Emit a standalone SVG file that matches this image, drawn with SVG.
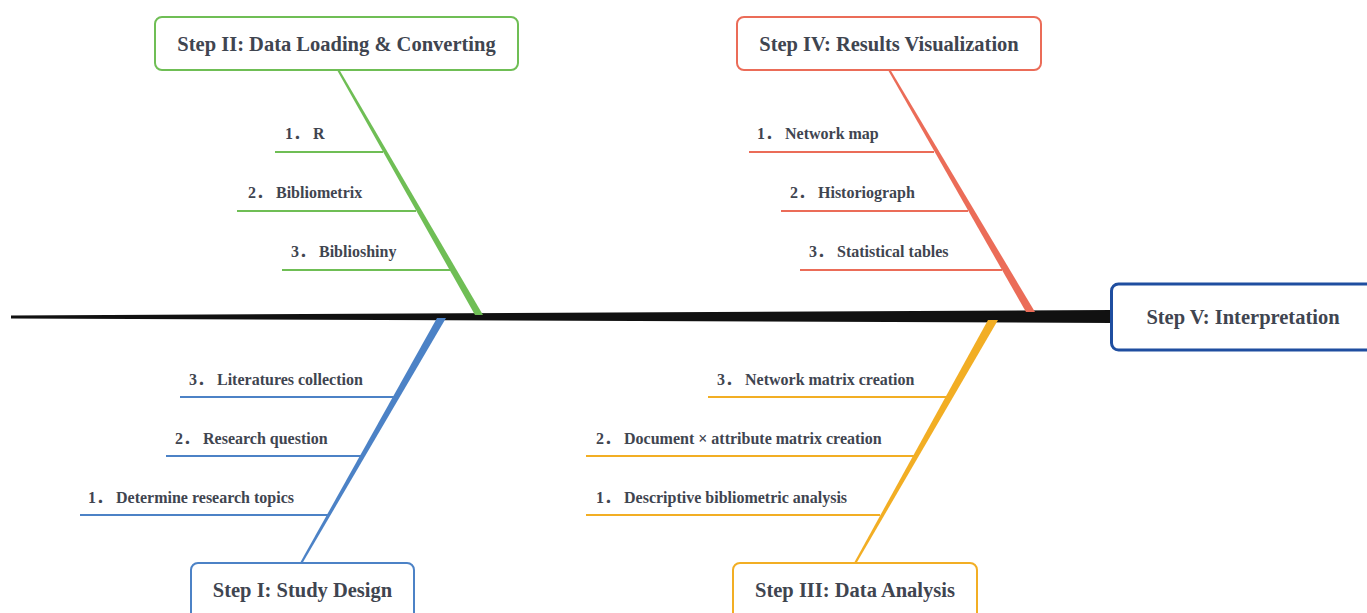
<svg xmlns="http://www.w3.org/2000/svg" width="1367" height="613" viewBox="0 0 1367 613">
  <style>
    .title { font-family: "Liberation Serif", "Noto Sans CJK SC", serif; font-weight: bold; font-size: 20.5px; fill: #3f4550; text-anchor: middle; dominant-baseline: central; }
    .lbl { font-family: "Liberation Serif", "Noto Sans CJK SC", serif; font-weight: bold; font-size: 16px; fill: #3f4550; }
    .box { fill: #ffffff; stroke-width: 2; }
    .sub { stroke-width: 2; fill: none; }
    .green { stroke: #6fbe55; }
    .red { stroke: #eb6c58; }
    .blue { stroke: #4c82c6; }
    .orange { stroke: #f2ae24; }
  </style>
  <rect width="1367" height="613" fill="#ffffff"/>

  <!-- connectors: spine, main bones and sub-bones -->
  <g id="connectors">
    <polygon points="11,315.5 1112,310 1112,323 11,318.5" fill="#111111"/>
    <polygon points="337,70 339.5,70 483,315 475,315" fill="#6fbe55"/>
    <polygon points="888,70 890.5,70 1035,312 1026,312" fill="#eb6c58"/>
    <polygon points="437,318 446,318 302.5,563 300,563" fill="#4c82c6"/>
    <polygon points="988,320 998,320 856.5,563 854,563" fill="#f2ae24"/>

    <line class="sub green" x1="275" y1="152" x2="383" y2="152"/>
    <line class="sub green" x1="237" y1="211" x2="416" y2="211"/>
    <line class="sub green" x1="282" y1="270" x2="450" y2="270"/>

    <line class="sub red" x1="749" y1="152" x2="934" y2="152"/>
    <line class="sub red" x1="781" y1="211" x2="968" y2="211"/>
    <line class="sub red" x1="800" y1="270" x2="1002" y2="270"/>

    <line class="sub blue" x1="180" y1="397" x2="397" y2="397"/>
    <line class="sub blue" x1="166" y1="456" x2="362" y2="456"/>
    <line class="sub blue" x1="80" y1="515" x2="328" y2="515"/>

    <line class="sub orange" x1="708" y1="397" x2="948" y2="397"/>
    <line class="sub orange" x1="586" y1="456" x2="914" y2="456"/>
    <line class="sub orange" x1="586" y1="515" x2="880" y2="515"/>
  </g>

  <!-- sub-bone labels -->
  <g id="labels">
    <text class="lbl" x="285" y="139">1． R</text>
    <text class="lbl" x="248" y="198">2． Bibliometrix</text>
    <text class="lbl" x="291" y="257">3． Biblioshiny</text>

    <text class="lbl" x="757" y="139">1． Network map</text>
    <text class="lbl" x="790" y="198">2． Historiograph</text>
    <text class="lbl" x="809" y="257">3． Statistical tables</text>

    <text class="lbl" x="189" y="385">3． Literatures collection</text>
    <text class="lbl" x="175" y="444">2． Research question</text>
    <text class="lbl" x="88" y="503">1． Determine research topics</text>

    <text class="lbl" x="717" y="385">3． Network matrix creation</text>
    <text class="lbl" x="596" y="444">2． Document × attribute matrix creation</text>
    <text class="lbl" x="596" y="503">1． Descriptive bibliometric analysis</text>
  </g>

  <g id="step2">
    <rect class="box green" x="155" y="17" width="363" height="53" rx="7"/>
    <text class="title" x="336.5" y="44">Step II: Data Loading &amp; Converting</text>
  </g>
  <g id="step4">
    <rect class="box red" x="737" y="17" width="304" height="53" rx="7"/>
    <text class="title" x="889" y="44">Step IV: Results Visualization</text>
  </g>
  <g id="step1">
    <rect class="box blue" x="191" y="563" width="223" height="70" rx="7"/>
    <text class="title" x="302.5" y="590">Step I: Study Design</text>
  </g>
  <g id="step3">
    <rect class="box orange" x="733" y="563" width="244" height="70" rx="7"/>
    <text class="title" x="855" y="590">Step III: Data Analysis</text>
  </g>
  <g id="step5">
    <rect x="1111.5" y="284" width="280" height="66" rx="7" fill="#ffffff" stroke="#1f4ea0" stroke-width="3"/>
    <text class="title" x="1243" y="317">Step V: Interpretation</text>
  </g>
</svg>
